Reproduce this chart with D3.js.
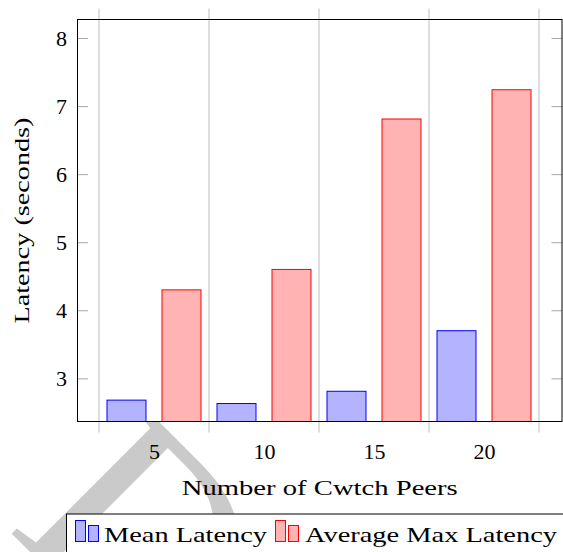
<!DOCTYPE html>
<html>
<head>
<meta charset="utf-8">
<script src="https://cdn.jsdelivr.net/npm/d3@7"></script>
<style>
  body { margin: 0; background: #fff; }
  svg { display: block; }
  text { font-family: "Liberation Serif", "Times New Roman", serif; fill: #000; }
</style>
</head>
<body>
<svg id="chart" width="563" height="552"></svg>
<script>
// data
const peers = [5, 10, 15, 20];
const meanLatency = [2.68, 2.63, 2.81, 3.70];
const avgMaxLatency = [4.30, 4.60, 6.81, 7.24];
const yTicks = [3, 4, 5, 6, 7, 8];
const gridX = [2.5, 7.5, 12.5, 17.5, 22.5];
const seriesNames = ["Mean Latency", "Average Max Latency"];

const plot = { left: 77.5, right: 562, top: 19.5, bottom: 421.5 };
const fontSize = 22;

const svg = d3.select("#chart");

const x = d3.scaleLinear().domain([1.523, 23.545]).range([plot.left, plot.right]);
const y = d3.scaleLinear().domain([2.366, 8.272]).range([plot.bottom, plot.top]);

// draft watermark behind everything, only a corner of the D shows
svg.append("text")
    .attr("transform", "translate(6,528) rotate(45)")
    .style("font-size", "280px")
    .style("fill", "#cacaca")
    .text("DRAFT");

// white plot background covers the watermark
svg.append("rect")
    .attr("x", plot.left).attr("y", plot.top)
    .attr("width", plot.right - plot.left).attr("height", plot.bottom - plot.top)
    .attr("fill", "#fff");

// grid lines, they poke out of the box a bit
svg.append("g").selectAll("line")
    .data(gridX)
    .join("line")
    .attr("x1", d => x(d)).attr("x2", d => x(d))
    .attr("y1", plot.top - 11).attr("y2", plot.bottom + 11)
    .attr("stroke", "#bdbdbd")
    .attr("stroke-width", 1);

// bars
const barW = 39;
const offset = 1.25;
const series = [
    { values: meanLatency, dx: -offset, fill: "#b3b3ff", stroke: "#0000ff" },
    { values: avgMaxLatency, dx: offset, fill: "#ffb3b3", stroke: "#ff0000" }
];

svg.append("clipPath").attr("id", "plotclip")
    .append("rect")
    .attr("x", plot.left).attr("y", plot.top)
    .attr("width", plot.right - plot.left).attr("height", plot.bottom - plot.top);

const bars = svg.append("g").attr("clip-path", "url(#plotclip)");
series.forEach(s => {
    bars.append("g").selectAll("rect")
        .data(s.values)
        .join("rect")
        .attr("x", (d, i) => x(peers[i] + s.dx) - barW / 2)
        .attr("y", d => y(d))
        .attr("width", barW)
        .attr("height", d => plot.bottom + 5 - y(d))
        .attr("fill", s.fill)
        .attr("stroke", s.stroke)
        .attr("stroke-width", 1);
});

// y axis, ticks inside on both sides
const yAxisL = svg.append("g")
    .attr("transform", `translate(${plot.left},0)`)
    .call(d3.axisLeft(y).tickValues(yTicks).tickFormat(d3.format("d"))
        .tickSizeInner(-10.5).tickSizeOuter(0).tickPadding(10.5));
const yAxisR = svg.append("g")
    .attr("transform", `translate(${plot.right},0)`)
    .call(d3.axisRight(y).tickValues(yTicks).tickSizeInner(-10.5).tickSizeOuter(0).tickFormat(""));
[yAxisL, yAxisR].forEach(g => {
    g.select(".domain").remove();
    g.selectAll(".tick line").attr("stroke", "#a8a8a8");
    g.selectAll(".tick text")
        .style("font-family", '"Liberation Serif", serif')
        .style("font-size", fontSize + "px")
        .attr("dy", "0.34em");
});

// x axis labels only
const xAxis = svg.append("g")
    .attr("transform", `translate(0,${plot.bottom})`)
    .call(d3.axisBottom(x).tickValues(peers).tickSize(0));
xAxis.select(".domain").remove();
xAxis.selectAll(".tick text")
    .style("font-family", '"Liberation Serif", serif')
    .style("font-size", fontSize + "px")
    .attr("y", 37.5)
    .attr("dy", 0);

// box
svg.append("rect")
    .attr("x", plot.left).attr("y", plot.top)
    .attr("width", plot.right - plot.left).attr("height", plot.bottom - plot.top)
    .attr("fill", "none")
    .attr("stroke", "#000")
    .attr("stroke-width", 1);

// axis titles
svg.append("text")
    .attr("x", (plot.left + plot.right) / 2)
    .attr("y", 495)
    .attr("text-anchor", "middle")
    .attr("textLength", 276)
    .attr("lengthAdjust", "spacingAndGlyphs")
    .style("font-size", fontSize + "px")
    .text("Number of Cwtch Peers");

svg.append("text")
    .attr("transform", `translate(29,${(plot.top + plot.bottom) / 2}) rotate(-90)`)
    .attr("text-anchor", "middle")
    .attr("textLength", 206)
    .attr("lengthAdjust", "spacingAndGlyphs")
    .style("font-size", fontSize + "px")
    .text("Latency (seconds)");

// legend
const legend = svg.append("g");
legend.append("rect")
    .attr("x", 66.5).attr("y", 514)
    .attr("width", 520).attr("height", 60)
    .attr("fill", "#fff")
    .attr("stroke", "#000")
    .attr("stroke-width", 1);

const legendItems = [
    { name: seriesNames[0], x: 75, fill: series[0].fill, stroke: series[0].stroke, textX: 104, w: 163 },
    { name: seriesNames[1], x: 275, fill: series[1].fill, stroke: series[1].stroke, textX: 305, w: 252 }
];
legendItems.forEach(it => {
    legend.append("rect")
        .attr("x", it.x + 0.5).attr("y", 520.5)
        .attr("width", 10).attr("height", 21)
        .attr("fill", it.fill).attr("stroke", it.stroke);
    legend.append("rect")
        .attr("x", it.x + 13.5).attr("y", 525.5)
        .attr("width", 10).attr("height", 16)
        .attr("fill", it.fill).attr("stroke", it.stroke);
    legend.append("text")
        .attr("x", it.textX)
        .attr("y", 542)
        .attr("textLength", it.w)
        .attr("lengthAdjust", "spacingAndGlyphs")
        .style("font-size", fontSize + "px")
        .text(it.name);
});
</script>
</body>
</html>
